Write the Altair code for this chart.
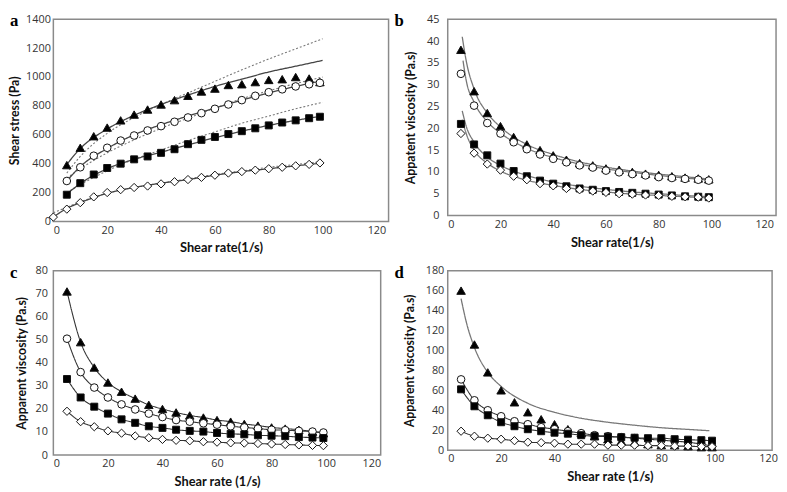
import altair as alt
import pandas as pd

XS = [5, 10, 15, 20, 25, 30, 35, 40, 45, 50, 55, 60, 65, 70, 75, 80, 85, 90, 95, 99]

# ---------------- panel a : shear stress ----------------
a_tri = [390, 510, 590, 650, 700, 740, 775, 810, 840, 870, 900, 920, 945, 950, 965, 980, 985, 1000, 990, 965]
a_circ = [280, 375, 455, 510, 560, 595, 630, 660, 690, 720, 750, 780, 810, 840, 870, 895, 915, 935, 950, 960]
a_sq = [185, 265, 325, 370, 400, 430, 450, 475, 500, 535, 565, 585, 605, 625, 645, 665, 685, 700, 715, 725]
a_dia_x = [0] + XS
a_dia = [30, 85, 130, 170, 200, 220, 235, 245, 260, 275, 290, 305, 320, 335, 345, 355, 365, 375, 385, 395, 405]

a_fit_x = [5, 10, 20, 30, 40, 50, 60, 70, 80, 90, 100]
a_tri_solid = [395, 505, 640, 735, 810, 875, 935, 985, 1035, 1075, 1115]
a_tri_dot = [335, 450, 610, 720, 810, 890, 970, 1050, 1125, 1195, 1265]
a_circ_solid = [280, 380, 505, 600, 670, 730, 785, 840, 890, 935, 975]
a_circ_dot = [300, 365, 475, 565, 645, 715, 785, 850, 905, 955, 1000]
a_sq_solid = [190, 262, 365, 430, 480, 530, 580, 625, 665, 700, 730]
a_sq_dot = [200, 255, 350, 430, 495, 560, 620, 680, 730, 780, 825]
a_dia_fit_x = [0, 5, 10, 20, 30, 40, 50, 60, 70, 80, 90, 100]
a_dia_solid = [30, 90, 130, 195, 235, 265, 290, 320, 345, 365, 385, 405]
a_dia_dot = [60, 98, 135, 195, 235, 265, 295, 325, 350, 375, 395, 415]

# ---------------- panel b : apparent viscosity ----------------
b_tri = [38, 28.5, 23.5, 20.5, 18, 16.3, 15, 13.8, 12.8, 12, 11.5, 10.8, 10.5, 10, 9.6, 9.3, 9, 8.7, 8.5, 8.3]
b_circ = [32.5, 25.2, 21.2, 18.8, 16.8, 15.2, 14, 13, 12.2, 11.5, 11, 10.3, 9.9, 9.5, 9.2, 8.8, 8.6, 8.4, 8.2, 8.0]
b_sq = [21, 16.3, 13.8, 11.9, 10.2, 9, 8, 7.3, 6.7, 6.2, 5.9, 5.6, 5.4, 5.2, 5.0, 4.8, 4.6, 4.4, 4.3, 4.2]
b_dia = [18.8, 14.3, 11.8, 10.4, 9, 8.2, 7.3, 6.8, 6.2, 5.9, 5.6, 5.3, 5.0, 4.9, 4.7, 4.6, 4.4, 4.3, 4.2, 4.0]

b_fit_x = [5.5, 7, 10, 15, 20, 30, 40, 50, 60, 70, 80, 90, 100]
b_circ_fit_x = [5.8, 7, 10, 15, 20, 30, 40, 50, 60, 70, 80, 90, 100]
b_tri_fit = [41, 35.5, 29, 23.5, 20.3, 16.3, 14, 12.3, 11.1, 10.2, 9.5, 8.9, 8.3]
b_circ_fit = [35.5, 31, 26, 21.5, 18.9, 15.4, 13.3, 11.8, 10.7, 9.9, 9.2, 8.6, 8.1]
b_sq_fit = [24, 20.5, 16.8, 13.4, 11.5, 9.2, 7.7, 6.7, 6.0, 5.4, 5.0, 4.6, 4.3]
b_dia_fit = [22, 18.8, 15, 12, 10.2, 8.1, 6.9, 6.0, 5.4, 4.9, 4.6, 4.3, 4.0]

# ---------------- panel c ----------------
c_tri = [71, 49, 38, 31.5, 27.5, 24.5, 21.8, 20, 18.5, 17.2, 16.3, 15.2, 14.5, 13.5, 12.8, 12, 11.5, 11, 10.2, 9.5]
c_circ = [50.5, 36, 29.3, 25, 22, 19.8, 18, 16.5, 15.2, 14.5, 13.8, 13.2, 12.5, 12, 11.5, 11, 10.8, 10.5, 10.2, 9.8]
c_sq = [33, 25, 21, 18, 15.5, 14, 12.5, 11.8, 11, 10.5, 10.2, 9.6, 9.2, 9, 8.6, 8.4, 8.2, 7.8, 7.6, 7.4]
c_dia = [19, 14.5, 12.3, 10.5, 9.5, 8.3, 7.5, 6.8, 6.4, 6.2, 5.8, 5.6, 5.3, 5.2, 5, 4.8, 4.6, 4.4, 4.2, 4.1]

# ---------------- panel d ----------------
d_tri = [160, 106, 78, 60, 48, 38, 31, 26, 21, 17, 14, 11, 9, 8, 6, 5, 5, 4, 3, 3]
d_circ = [71, 50, 40, 34, 29, 26, 23, 21, 19, 17, 15, 14, 13, 12, 11, 10, 9, 8, 6, 4]
d_sq = [61, 44, 35, 28, 24, 21, 19, 17.5, 16.5, 15, 14, 13.5, 13, 12.5, 12, 12, 11, 10.5, 10, 9.5]
d_dia = [19, 14, 12, 11, 9.5, 8, 7.5, 7, 6, 6, 6, 5, 5, 5, 4.5, 4.5, 4, 4, 3.5, 3.5]
d_fit_x = [5, 7, 10, 15, 20, 30, 40, 50, 60, 70, 80, 90, 98]
d_tri_fit = [152, 128, 103, 78, 64, 47, 38, 32, 28, 25, 22.5, 20.8, 19.5]

FONT = "Open Sans"
TFONT = "Lato"
SHAPES = {"tri": "triangle-up", "circ": "circle", "sq": "square", "dia": "diamond"}
FILLS = {"tri": "#000000", "circ": "#ffffff", "sq": "#000000", "dia": "#ffffff"}
SIZES = {"tri": 75, "circ": 60, "sq": 50, "dia": 70}


def pts(xs, ys, s):
    return pd.DataFrame({"x": xs, "y": ys, "s": s})


def ln(xs, ys):
    return pd.DataFrame({"x": xs, "y": ys})


def panel(letter, points, lines, ydom, ystep, ytitle, xtitle, w, h, xmax,
          letter_dx, ylab_pad, ytitle_pad):
    xsc = alt.Scale(domain=[0, xmax], nice=False)
    ysc = alt.Scale(domain=[0, ydom], nice=False)
    xax = alt.Axis(values=list(range(0, 121, 20)), title=xtitle, grid=False, domain=False,
                   ticks=False, format="d", labelFont=FONT, labelFontSize=11, labelColor="#333",
                   labelPadding=3, titleFont=TFONT, titleFontSize=13, titleFontWeight="bold",
                   titlePadding=7, titleColor="#111")
    yax = alt.Axis(values=list(range(0, ydom + 1, ystep)), title=ytitle, grid=False, domain=False,
                   ticks=False, format="d", labelFont=FONT, labelFontSize=11, labelColor="#333",
                   labelPadding=ylab_pad, titleFont=TFONT, titleFontSize=12.5, titleFontWeight="bold",
                   titlePadding=ytitle_pad, titleColor="#111")
    X = alt.X("x:Q", scale=xsc, axis=xax)
    Y = alt.Y("y:Q", scale=ysc, axis=yax)
    layers = []
    for df, color, dash, width in lines:
        mk = alt.Chart(df).mark_line(color=color, strokeWidth=width, interpolate="monotone",
                                     strokeDash=dash, clip=True)
        layers.append(mk.encode(x=X, y=Y))
    for df in points:
        s = df["s"].iloc[0]
        layers.append(alt.Chart(df).mark_point(shape=SHAPES[s], filled=False, fill=FILLS[s],
                                               fillOpacity=1, stroke="#111", strokeWidth=1,
                                               size=SIZES[s], opacity=1).encode(x=X, y=Y))
    lab = alt.Chart(pd.DataFrame({"t": [letter]})).mark_text(
        font="Liberation Serif", fontSize=17, fontWeight="bold", align="left", baseline="top",
        color="#000").encode(text="t:N", x=alt.value(letter_dx), y=alt.value(-6))
    layers.append(lab)
    return alt.layer(*layers).properties(width=w, height=h)


DK = "#333333"
GR = "#777777"
DOT = [2, 2]
SOL = [1, 0]

pa = panel("a",
           [pts(XS, a_tri, "tri"), pts(XS, a_circ, "circ"), pts(XS, a_sq, "sq"), pts(a_dia_x, a_dia, "dia")],
           [(ln(a_fit_x, a_tri_dot), GR, DOT, 1.1), (ln(a_fit_x, a_circ_dot), GR, DOT, 1.1),
            (ln(a_fit_x, a_sq_dot), GR, DOT, 1.1), (ln(a_dia_fit_x, a_dia_dot), GR, DOT, 1.1),
            (ln(a_fit_x, a_tri_solid), "#444", SOL, 1.3), (ln(a_fit_x, a_circ_solid), "#444", SOL, 1.3),
            (ln(a_fit_x, a_sq_solid), "#444", SOL, 1.3), (ln(a_dia_fit_x, a_dia_solid), "#444", SOL, 1.3)],
           1400, 200, "Shear stress (Pa)", "Shear rate(1/s)", 340, 205, 124.5, -44, 3, 4)

pb = panel("b",
           [pts(XS, b_tri, "tri"), pts(XS, b_circ, "circ"), pts(XS, b_sq, "sq"), pts(XS, b_dia, "dia")],
           [(ln(b_fit_x, b_tri_fit), GR, SOL, 1.3), (ln(b_circ_fit_x, b_circ_fit), GR, SOL, 1.3),
            (ln(b_fit_x, b_sq_fit), GR, SOL, 1.3), (ln(b_fit_x, b_dia_fit), GR, SOL, 1.3)],
           45, 5, "Appatent viscosity (Pa.s)", "Shear rate(1/s)", 333, 199, 124.5, -54, 9, 9)

pc = panel("c",
           [pts(XS, c_tri, "tri"), pts(XS, c_circ, "circ"), pts(XS, c_sq, "sq"), pts(XS, c_dia, "dia")],
           [(ln(XS, c_tri), DK, SOL, 1.1), (ln(XS, c_circ), DK, SOL, 1.1),
            (ln(XS, c_sq), DK, SOL, 1.1), (ln(XS, c_dia), DK, SOL, 1.1)],
           80, 10, "Apparent viscosity (Pa.s)", "Shear rate (1/s)", 332, 187, 120, -44, 6, 7)

pd_ = panel("d",
            [pts(XS, d_tri, "tri"), pts(XS, d_circ, "circ"), pts(XS, d_sq, "sq"), pts(XS, d_dia, "dia")],
            [(ln(d_fit_x, d_tri_fit), GR, SOL, 1.3), (ln(XS, d_circ), DK, SOL, 1.1),
             (ln(XS, d_sq), DK, SOL, 1.1), (ln(XS, d_dia), DK, SOL, 1.1)],
            180, 20, "Apparent viscosity (Pa.s)", "Shear rate (1/s)", 329, 182, 121.5, -54, 4, 9)

chart = alt.concat(pa, pb, pc, pd_, columns=2,
                   spacing=alt.RowColnumber(row=7, column=4)).configure_view(
    stroke="#8a8a8a", strokeWidth=1.5).properties(
    padding={"left": 0, "top": 0, "right": 0, "bottom": 0}, background="white")

chart.save("out.html", embed_options={"renderer": "svg", "actions": False})
